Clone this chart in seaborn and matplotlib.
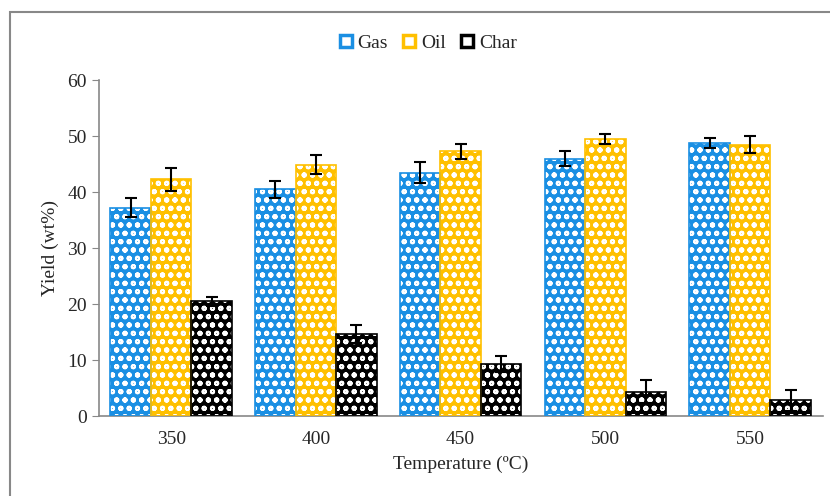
import numpy as np
import pandas as pd
import matplotlib
matplotlib.use("Agg")
import matplotlib.pyplot as plt
import seaborn as sns
from matplotlib.patches import Patch, Rectangle

# data
temps = ["350", "400", "450", "500", "550"]
series = ["Gas", "Oil", "Char"]
gas = [37.2, 40.5, 43.5, 46.0, 48.8]
oil = [42.3, 44.9, 47.3, 49.6, 48.5]
char = [20.5, 14.7, 9.3, 4.4, 2.8]
gas_err = [1.7, 1.5, 1.9, 1.3, 0.9]
oil_err = [2.0, 1.7, 1.4, 0.9, 1.5]
char_err = [0.8, 1.6, 1.5, 2.0, 1.8]

colors = {"Gas": "#1a8fe3", "Oil": "#ffc000", "Char": "#000000"}

df = pd.DataFrame({
    "Temperature": temps * 3,
    "Product": ["Gas"] * 5 + ["Oil"] * 5 + ["Char"] * 5,
    "Yield": gas + oil + char,
    "err": gas_err + oil_err + char_err,
})

sns.set_style("white")
plt.rcParams["font.family"] = ["Liberation Serif", "DejaVu Serif"]
plt.rcParams["hatch.linewidth"] = 1.4

fig = plt.figure(figsize=(8.3, 4.96), dpi=100)
ax = fig.add_axes([0.119, 0.161, 0.872, 0.677])

sns.barplot(data=df, x="Temperature", y="Yield", hue="Product", order=temps,
            hue_order=series, palette=colors, errorbar=None, width=0.84,
            saturation=1, legend=False, ax=ax)

# pattern fill + error bars
for prod, cont in zip(series, ax.containers):
    sub = df[df["Product"] == prod].set_index("Temperature").loc[temps]
    xs = []
    for bar in cont:
        bar.set_hatch("oo")
        bar.set_edgecolor("white")
        bar.set_linewidth(0)
        x0, w, h = bar.get_x(), bar.get_width(), bar.get_height()
        ax.add_patch(Rectangle((x0, 0), w, h, fill=False,
                               edgecolor=colors[prod], linewidth=1.2, zorder=3))
        xs.append(x0 + w / 2)
    ax.errorbar(xs, sub["Yield"].values, yerr=sub["err"].values, fmt="none",
                ecolor="black", elinewidth=1.5, capsize=4, capthick=1.5, zorder=4)

ax.set_ylim(0, 60)
ax.set_yticks(range(0, 61, 10))
ax.set_xlim(-0.5, 4.5)
ax.set_xlabel("Temperature (ºC)", fontsize=14, labelpad=5)
ax.set_ylabel("Yield (wt%)", fontsize=14, labelpad=6)
ax.tick_params(axis="y", labelsize=14, length=5, color="#888888", left=True, direction="out")
ax.tick_params(axis="x", labelsize=14, length=0, pad=11)
for s in ["top", "right"]:
    ax.spines[s].set_visible(False)
for s in ["left", "bottom"]:
    ax.spines[s].set_color("#888888")
    ax.spines[s].set_linewidth(1.2)

handles = [Patch(facecolor="white", edgecolor=colors[s], linewidth=2.5, label=s) for s in series]
fig.legend(handles=handles, loc="upper center", bbox_to_anchor=(0.516, 0.965), ncol=3,
           frameon=False, fontsize=14, handlelength=0.6, handleheight=0.6,
           handletextpad=0.3, columnspacing=0.8)

# outer chart frame (left and top visible)
fig.patches.append(Rectangle((0.012, -0.1), 1.2, 1.075, transform=fig.transFigure,
                             fill=False, edgecolor="#888888", linewidth=1.5))

fig.savefig("out.png", dpi=100)
